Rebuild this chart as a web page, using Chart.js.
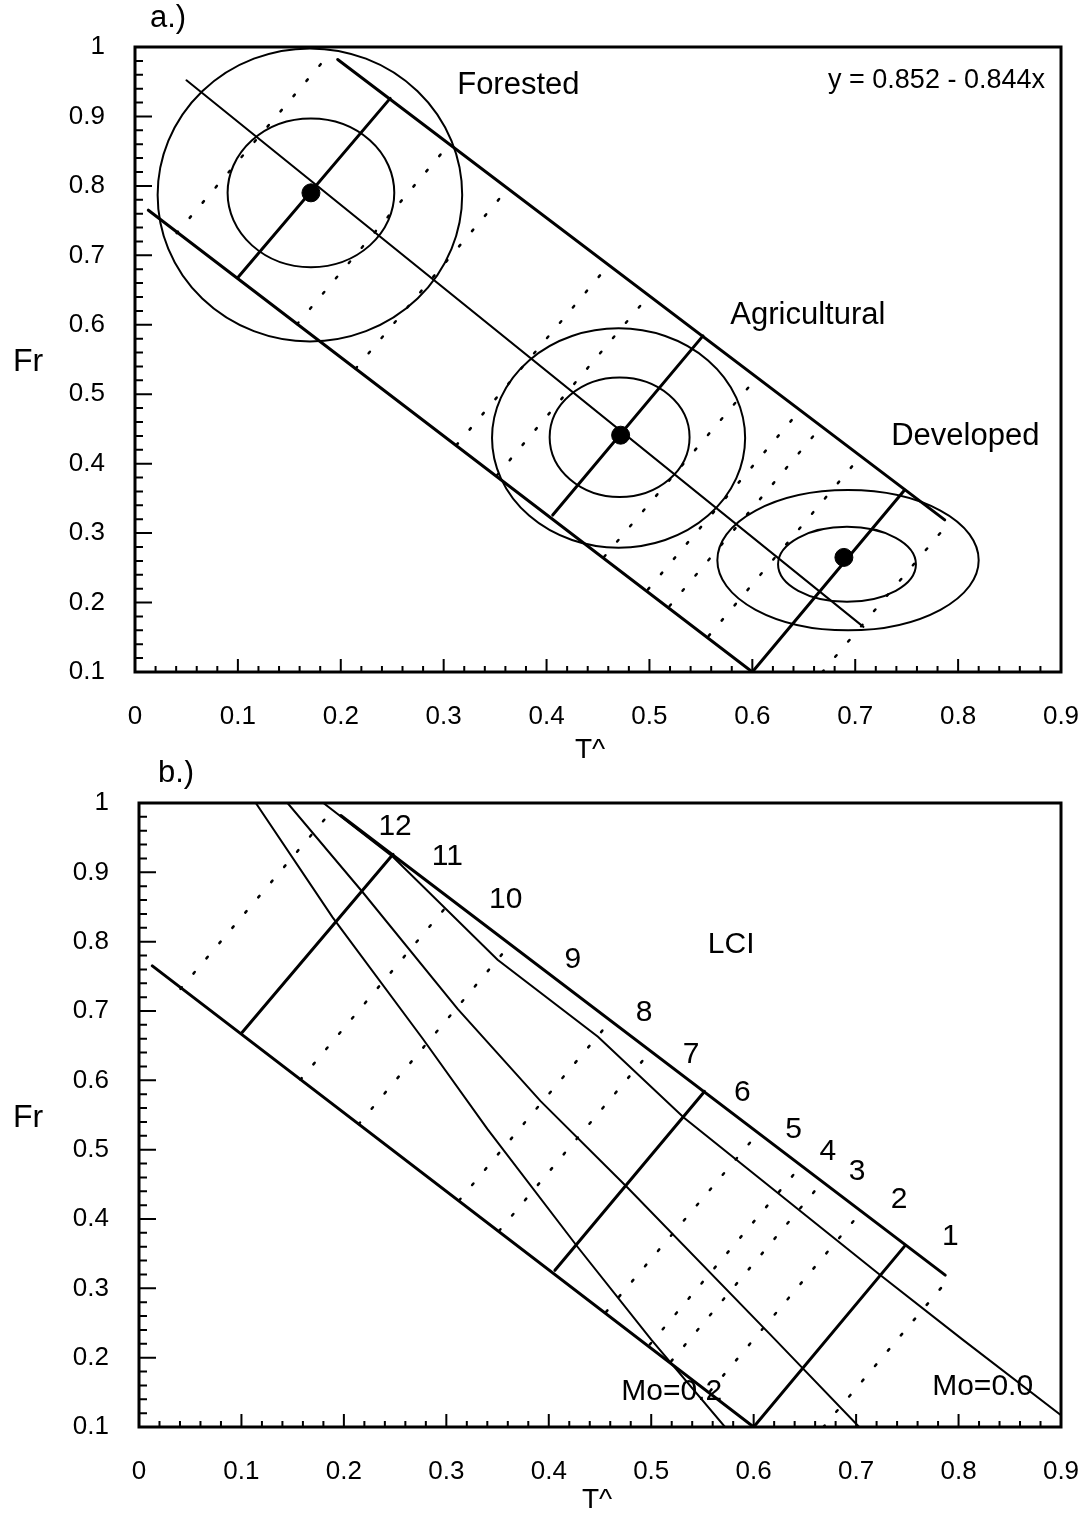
<!DOCTYPE html>
<html>
<head>
<meta charset="utf-8">
<script src="https://cdn.jsdelivr.net/npm/chart.js@4.4.1/dist/chart.umd.min.js"></script>
<style>
  body { margin: 0; background: #fff; }
  canvas { position: absolute; left: 0; }
  #chartA { top: 0; }
  #chartB { top: 760px; }
</style>
</head>
<body>
<canvas id="chartA" width="1088" height="760"></canvas>
<canvas id="chartB" width="1088" height="761"></canvas>
<script>
// axis ticks
const xTicks = [0, 0.1, 0.2, 0.3, 0.4, 0.5, 0.6, 0.7, 0.8, 0.9];
const xTickLabels = ['0', '0.1', '0.2', '0.3', '0.4', '0.5', '0.6', '0.7', '0.8', '0.9'];
const yTicks = [0.1, 0.2, 0.3, 0.4, 0.5, 0.6, 0.7, 0.8, 0.9, 1];
const yTickLabels = ['0.1', '0.2', '0.3', '0.4', '0.5', '0.6', '0.7', '0.8', '0.9', '1'];

// class means (T^, Fr)
const classes = ['Forested', 'Agricultural', 'Developed'];
const meanT = [0.171, 0.472, 0.689];
const meanFr = [0.790, 0.441, 0.265];

// spread ellipses round each class
const outerT = [0.170, 0.470, 0.693];
const outerFr = [0.787, 0.437, 0.261];
const outerRT = [0.148, 0.123, 0.127];
const outerRFr = [0.211, 0.158, 0.101];
const innerT = [0.171, 0.471, 0.692];
const innerFr = [0.790, 0.438, 0.255];
const innerRT = [0.081, 0.068, 0.067];
const innerRFr = [0.107, 0.086, 0.054];

// band: centre line and edges
const centreT = [0.05, 0.708];
const centreFr = [0.952, 0.165];
const upperT = [0.197, 0.787];
const upperFr = [0.982, 0.319];
const lowerT = [0.013, 0.6];
const lowerFr = [0.765, 0.1];

// cross lines through the classes (lower end, upper end)
const crossT0 = [0.1, 0.406, 0.6];
const crossFr0 = [0.668, 0.326, 0.1];
const crossT1 = [0.248, 0.552, 0.748];
const crossFr1 = [0.926, 0.584, 0.362];

// dotted dividers (lower end, upper end)
const dotT0 = [0.0405, 0.1576, 0.2145, 0.3126, 0.3516, 0.456, 0.4986, 0.5196, 0.5576, 0.668];
const dotFr0 = [0.732, 0.601, 0.537, 0.427, 0.383, 0.266, 0.219, 0.195, 0.152, 0.1];
const dotT1 = [0.189, 0.306, 0.363, 0.461, 0.5, 0.605, 0.647, 0.668, 0.706, 0.79];
const dotFr1 = [0.99, 0.861, 0.797, 0.687, 0.643, 0.525, 0.478, 0.455, 0.412, 0.313];

// moisture isolines in b.)
const mo0T = [0.18, 0.248, 0.35, 0.448, 0.532, 0.721, 0.804, 0.9];
const mo0Fr = [1.0, 0.922, 0.774, 0.663, 0.546, 0.322, 0.226, 0.117];
const moMidT = [0.145, 0.218, 0.311, 0.392, 0.477, 0.621, 0.703];
const moMidFr = [1.0, 0.872, 0.703, 0.570, 0.445, 0.226, 0.1];
const mo2T = [0.114, 0.189, 0.277, 0.340, 0.428, 0.5, 0.572];
const mo2Fr = [1.0, 0.835, 0.660, 0.530, 0.360, 0.226, 0.1];

// LCI class numbers
const lciLabels = ['12', '11', '10', '9', '8', '7', '6', '5', '4', '3', '2', '1'];
const lciT = [0.25, 0.301, 0.358, 0.4235, 0.493, 0.539, 0.589, 0.639, 0.6725, 0.701, 0.742, 0.792];
const lciFr = [0.966, 0.9225, 0.8605, 0.774, 0.697, 0.637, 0.582, 0.5286, 0.497, 0.468, 0.4276, 0.374];

const FONT = '"Liberation Sans", Arial, Helvetica, sans-serif';

function pts(ts, fs) { return ts.map((t, i) => ({ x: t, y: fs[i] })); }

function lineSet(data, width, dash) {
  return {
    type: 'scatter', data: data, showLine: true, tension: 0,
    borderColor: '#000', borderWidth: width, borderDash: dash || [],
    borderCapStyle: 'round', pointRadius: 0, fill: false
  };
}

function bandSets() {
  const sets = [];
  sets.push(lineSet(pts(upperT, upperFr), 3));
  sets.push(lineSet(pts(lowerT, lowerFr), 3));
  for (let i = 0; i < crossT0.length; i++) {
    sets.push(lineSet([{ x: crossT0[i], y: crossFr0[i] }, { x: crossT1[i], y: crossFr1[i] }], 3));
  }
  for (let i = 0; i < dotT0.length; i++) {
    sets.push(lineSet([{ x: dotT0[i], y: dotFr0[i] }, { x: dotT1[i], y: dotFr1[i] }], 2.5, [2, 18]));
  }
  return sets;
}

const sketchPlugin = {
  id: 'sketch',
  afterDatasetsDraw(chart, args, opts) {
    const ctx = chart.ctx;
    const a = chart.chartArea;
    const sx = chart.scales.x, sy = chart.scales.y;
    ctx.save();
    ctx.strokeStyle = '#000';
    ctx.fillStyle = '#000';

    // spread ellipses
    if (opts.rings) {
      ctx.lineWidth = 2;
      const ring = (cx, cy, rx, ry) => {
        const px = sx.getPixelForValue(cx), py = sy.getPixelForValue(cy);
        const rpx = Math.abs(sx.getPixelForValue(cx + rx) - px);
        const rpy = Math.abs(sy.getPixelForValue(cy + ry) - py);
        ctx.beginPath();
        ctx.ellipse(px, py, rpx, rpy, 0, 0, Math.PI * 2);
        ctx.stroke();
      };
      for (let i = 0; i < classes.length; i++) {
        ring(outerT[i], outerFr[i], outerRT[i], outerRFr[i]);
        ring(innerT[i], innerFr[i], innerRT[i], innerRFr[i]);
      }
    }

    // frame
    ctx.lineWidth = 3;
    ctx.strokeRect(a.left, a.top, a.right - a.left, a.bottom - a.top);

    // inward ticks every 0.02
    ctx.lineWidth = 2;
    ctx.beginPath();
    for (let k = 0; k <= 45; k++) {
      const major = k % 5 === 0;
      const px = sx.getPixelForValue(k * 0.02);
      ctx.moveTo(px, a.bottom);
      ctx.lineTo(px, a.bottom - (major ? 13 : 6));
    }
    for (let k = 5; k <= 50; k++) {
      const major = k % 5 === 0;
      const py = sy.getPixelForValue(k * 0.02);
      ctx.moveTo(a.left, py);
      ctx.lineTo(a.left + (major ? 17 : 8), py);
    }
    ctx.stroke();

    // texts
    ctx.textAlign = 'center';
    ctx.textBaseline = 'middle';
    (opts.notes || []).forEach(n => {
      ctx.font = n.size + 'px ' + FONT;
      ctx.fillText(n.text, sx.getPixelForValue(n.x), sy.getPixelForValue(n.y));
    });
    (opts.pixelNotes || []).forEach(n => {
      ctx.font = n.size + 'px ' + FONT;
      ctx.fillText(n.text, n.px, n.py);
    });
    ctx.restore();
  }
};

function baseOptions(padTop, yWidth, xHeight) {
  return {
    responsive: false,
    animation: false,
    devicePixelRatio: 1,
    layout: { padding: { left: 0, right: 27, top: padTop, bottom: 0 } },
    plugins: { legend: { display: false }, tooltip: { enabled: false } },
    scales: {
      x: {
        type: 'linear', min: 0, max: 0.9,
        grid: { display: false }, border: { display: false },
        afterBuildTicks: s => { s.ticks = xTicks.map(v => ({ value: v })); },
        afterFit: s => { s.height = xHeight; s.paddingLeft = 0; s.paddingRight = 0; },
        ticks: {
          padding: 21, color: '#000', maxRotation: 0,
          font: { family: FONT, size: 26 },
          callback: (v, i) => xTickLabels[i]
        }
      },
      y: {
        type: 'linear', min: 0.1, max: 1,
        grid: { display: false }, border: { display: false },
        afterBuildTicks: s => { s.ticks = yTicks.map(v => ({ value: v })); },
        afterFit: s => { s.width = yWidth; s.paddingTop = 0; s.paddingBottom = 0; },
        ticks: {
          padding: 22, color: '#000',
          font: { family: FONT, size: 26 },
          callback: (v, i) => yTickLabels[i]
        }
      }
    }
  };
}

// ---- a.) ----
const setsA = bandSets();
setsA.unshift(lineSet(pts(centreT, centreFr), 2));
setsA.push({
  type: 'scatter', data: pts(meanT, meanFr),
  pointRadius: 9, pointBackgroundColor: '#000', pointBorderColor: '#000', showLine: false
});

const optA = baseOptions(47, 135, 88);
optA.plugins.sketch = {
  rings: true,
  notes: [
    { text: 'Forested', x: 0.3726, y: 0.945, size: 31 },
    { text: 'y = 0.852 - 0.844x', x: 0.779, y: 0.952, size: 27 },
    { text: 'Agricultural', x: 0.654, y: 0.614, size: 31 },
    { text: 'Developed', x: 0.807, y: 0.4395, size: 31 }
  ],
  pixelNotes: [
    { text: 'a.)', px: 168, py: 18, size: 31 },
    { text: 'Fr', px: 28, py: 362, size: 32 },
    { text: 'T^', px: 590, py: 750, size: 28 }
  ]
};

new Chart(document.getElementById('chartA'), {
  type: 'scatter',
  data: { datasets: setsA },
  options: optA,
  plugins: [sketchPlugin]
});

// ---- b.) ----
const setsB = bandSets();
setsB.push(lineSet(pts(mo0T, mo0Fr), 2));
setsB.push(lineSet(pts(moMidT, moMidFr), 2));
setsB.push(lineSet(pts(mo2T, mo2Fr), 2));

const optB = baseOptions(43, 139, 94);
const lciNotes = lciLabels.map((t, i) => ({ text: t, x: lciT[i], y: lciFr[i], size: 30 }));
optB.plugins.sketch = {
  rings: false,
  notes: lciNotes.concat([
    { text: 'LCI', x: 0.578, y: 0.7955, size: 30 },
    { text: 'Mo=0.2', x: 0.52, y: 0.1505, size: 30 },
    { text: 'Mo=0.0', x: 0.8235, y: 0.158, size: 30 }
  ]),
  pixelNotes: [
    { text: 'b.)', px: 176, py: 13, size: 31 },
    { text: 'Fr', px: 28, py: 358, size: 32 },
    { text: 'T^', px: 597, py: 740, size: 28 }
  ]
};

new Chart(document.getElementById('chartB'), {
  type: 'scatter',
  data: { datasets: setsB },
  options: optB,
  plugins: [sketchPlugin]
});
</script>
</body>
</html>
